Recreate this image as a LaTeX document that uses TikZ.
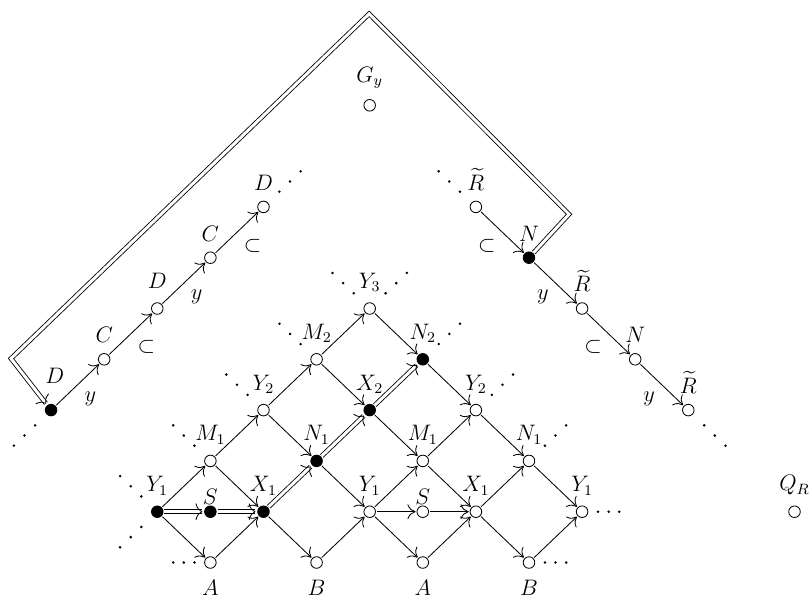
\documentclass[tikz,border=0pt]{standalone}
\usepackage{amsmath,amssymb}
\usepackage{tikz}
\usetikzlibrary{arrows.meta,calc,decorations.markings}

\begin{document}
\begin{tikzpicture}[
  x=1cm, y=0.9567cm,
  font=\fontsize{12}{14}\selectfont,
  line width=0.45pt,
  vtx/.style={circle, draw, inner sep=0pt, minimum size=6.2pt},
  fvtx/.style={vtx, fill},
  every label/.style={inner sep=2pt},
  label distance=3.4pt,
  ar/.style={-{Computer Modern Rightarrow[length=4.4pt,width=8pt]},
    shorten >=0.5pt, shorten <=0.5pt},
  dar/.style={double, double distance=1.6pt,
    shorten >=1.2pt, shorten <=0.5pt,
    postaction={decorate, decoration={markings,
      mark=at position 1 with {\arrow{Computer Modern Rightarrow[length=5.6pt,width=11pt]}}}}},
  lbl/.style={inner sep=2pt},
]
\useasboundingbox (-2.962,-1.699) rectangle (12.273,10.073);

% ---- Lattice ----
\node[fvtx, label=above:$Y_1$] (y1a) at (0,0) {};
\node[fvtx, label={[label distance=-1.5pt]above:$S$}] (s1) at (1,0) {};
\node[fvtx, label=above:$X_1$] (x1a) at (2,0) {};
\node[vtx, label={[label distance=4pt]below:$A$}] (a1) at (1,-1) {};
\node[vtx, label=above:$M_1$] (m1a) at (1,1) {};
\node[vtx, label=above:$Y_2$] (y2a) at (2,2) {};
\node[fvtx, label=above:$N_1$] (n1a) at (3,1) {};
\node[vtx, label={[label distance=4pt]below:$B$}] (b1) at (3,-1) {};
\node[vtx, label=above:$M_2$] (m2) at (3,3) {};
\node[vtx, label=above:$Y_3$] (y3) at (4,4) {};
\node[fvtx, label=above:$X_2$] (x2) at (4,2) {};
\node[vtx, label=above:$Y_1$] (y1b) at (4,0) {};
\node[fvtx, label=above:$N_2$] (n2) at (5,3) {};
\node[vtx, label=above:$M_1$] (m1b) at (5,1) {};
\node[vtx, label={[label distance=-1.5pt]above:$S$}] (s2) at (5,0) {};
\node[vtx, label={[label distance=4pt]below:$A$}] (a2) at (5,-1) {};
\node[vtx, label=above:$Y_2$] (y2b) at (6,2) {};
\node[vtx, label=above:$X_1$] (x1b) at (6,0) {};
\node[vtx, label=above:$N_1$] (n1b) at (7,1) {};
\node[vtx, label={[label distance=4pt]below:$B$}] (b2) at (7,-1) {};
\node[vtx, label=above:$Y_1$] (y1c) at (8,0) {};

% ---- Lone points ----
\node[vtx, label=above:$G_y$] (gy) at (4,8) {};
\node[vtx, label=above:$Q_R$] (qr) at (12,0) {};

% ---- Left chain ----
\node[fvtx, label={[label distance=8.5pt, xshift=2pt]above:$D$}] (d1) at (-2,2) {};
\node[vtx, label=above:$C$] (c1) at (-1,3) {};
\node[vtx, label={[label distance=5.4pt]above:$D$}] (d2) at (0,4) {};
\node[vtx, label=above:$C$] (c2) at (1,5) {};
\node[vtx, label=above:$D$] (d3) at (2,6) {};

% ---- Right chain ----
\node[vtx, label=above:$\widetilde{R}$] (r1) at (6,6) {};
\node[fvtx, label=above:$N$] (nn1) at (7,5) {};
\node[vtx, label=above:$\widetilde{R}$] (r2) at (8,4) {};
\node[vtx, label=above:$N$] (nn2) at (9,3) {};
\node[vtx, label=above:$\widetilde{R}$] (r3) at (10,2) {};

% ---- Lattice edges ----
\draw[ar] (y1a) -- (m1a);
\draw[ar] (y1a) -- (a1);
\draw[ar] (m1a) -- (y2a);
\draw[ar] (m1a) -- (x1a);
\draw[ar] (a1) -- (x1a);
\draw[ar] (y2a) -- (m2);
\draw[ar] (y2a) -- (n1a);
\draw[ar] (x1a) -- (b1);
\draw[ar] (m2) -- (y3);
\draw[ar] (m2) -- (x2);
\draw[ar] (n1a) -- (y1b);
\draw[ar] (b1) -- (y1b);
\draw[ar] (y3) -- (n2);
\draw[ar] (x2) -- (m1b);
\draw[ar] (n2) -- (y2b);
\draw[ar] (y1b) -- (m1b);
\draw[ar] (y1b) -- (s2);
\draw[ar] (y1b) -- (a2);
\draw[ar] (m1b) -- (y2b);
\draw[ar] (m1b) -- (x1b);
\draw[ar] (s2) -- (x1b);
\draw[ar] (a2) -- (x1b);
\draw[ar] (y2b) -- (n1b);
\draw[ar] (x1b) -- (n1b);
\draw[ar] (x1b) -- (b2);
\draw[ar] (n1b) -- (y1c);
\draw[ar] (b2) -- (y1c);

% ---- Double path through the lattice ----
\draw[dar] (y1a) -- (s1);
\draw[dar] (s1) -- (x1a);
\draw[dar] (x1a) -- (n1a);
\draw[dar] (n1a) -- (x2);
\draw[dar] (x2) -- (n2);

% ---- Chain edges ----
\draw[ar] (d1) -- node[lbl, below right=1.5pt]{$y$} (c1);
\draw[ar] (c1) -- node[lbl, below right=1.5pt]{$\subset$} (d2);
\draw[ar] (d2) -- node[lbl, below right=1.5pt]{$y$} (c2);
\draw[ar] (c2) -- node[lbl, below right=1.5pt]{$\subset$} (d3);
\draw[ar] (r1) -- node[lbl, below left=1.5pt]{$\subset$} (nn1);
\draw[ar] (nn1) -- node[lbl, below left=1.5pt]{$y$} (r2);
\draw[ar] (r2) -- node[lbl, below left=1.5pt]{$\subset$} (nn2);
\draw[ar] (nn2) -- node[lbl, below left=1.5pt]{$y$} (r3);

% ---- Outer double path ----
\coordinate (rc) at (7.755,5.856);
\coordinate (apex) at (3.99,9.80);
\coordinate (lc) at (-2.755,3.015);
\draw[dar] (nn1) -- (rc) -- (apex) -- (lc) -- (d1);

% ---- Dots ----
\foreach \n/\dx/\dy in {y1a/-1/1, y1a/-1/-1, m1a/-1/1, y2a/-1/1, m2/-1/1,
    y3/-1/1, y3/1/1, n2/1/1, y2b/1/1, n1b/1/1, a1/-1/0, b2/1/0, y1c/1/0,
    d1/-1/-1, d3/1/1, r1/-1/1, r3/1/-1}
  \foreach \t in {0.3,0.5,0.7}
    \fill ($(\n)+\t*(\dx,\dy)$) circle (0.75pt);

\end{tikzpicture}
\end{document}
